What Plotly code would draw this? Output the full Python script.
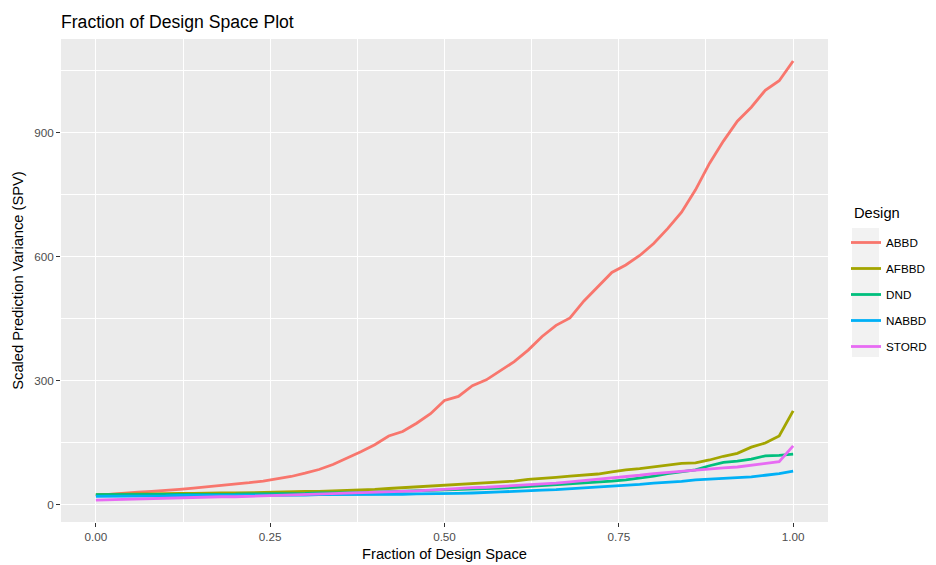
import plotly.graph_objects as go

fraction = [round(i * 0.02, 2) for i in range(51)]

designs = ["ABBD", "AFBBD", "DND", "NABBD", "STORD"]
colors = ["#F8766D", "#A3A500", "#00BF7D", "#00B0F6", "#E76BF3"]

abbd = [22, 25, 28, 30, 32, 34, 37, 40, 43, 46,
        50, 53, 57, 62, 68, 76, 85, 97, 112, 128,
        145, 166, 177, 197, 220, 252, 262, 288, 302, 325,
        346, 374, 407, 434, 452, 493, 528, 562, 580, 603,
        632, 668, 708, 762, 826, 880, 928, 962, 1003, 1026,
        1074]
afbbd = [24, 25, 25, 26, 26, 27, 27, 27, 28, 28,
         28, 29, 29, 30, 31, 32, 32, 33, 34, 36,
         37, 39, 41, 43, 45, 46, 48, 50, 52, 55,
         57, 61, 63, 66, 69, 71, 74, 79, 84, 87,
         91, 95, 100, 101, 108, 117, 124, 139, 149, 166,
         227]
dnd = [24, 24, 24, 24, 24, 24, 24, 25, 25, 25,
       25, 26, 26, 26, 27, 27, 28, 28, 29, 29,
       30, 31, 32, 33, 34, 35, 36, 38, 39, 40,
       42, 44, 46, 48, 50, 52, 55, 57, 60, 64,
       69, 75, 80, 84, 94, 102, 105, 110, 118, 119,
       122]
nabbd = [20, 20, 20, 21, 21, 21, 22, 22, 22, 22,
         22, 23, 23, 23, 23, 23, 24, 24, 24, 24,
         25, 25, 25, 26, 26, 27, 27, 28, 30, 31,
         32, 34, 35, 36, 38, 40, 42, 44, 47, 49,
         52, 54, 56, 60, 62, 64, 65, 67, 71, 75,
         81]
stord = [11, 12, 13, 14, 14, 15, 16, 17, 18, 19,
         19, 20, 21, 22, 23, 24, 25, 26, 27, 28,
         29, 30, 32, 33, 35, 37, 40, 41, 42, 44,
         45, 47, 49, 52, 55, 58, 61, 64, 67, 71,
         75, 78, 81, 83, 86, 89, 91, 95, 99, 104,
         142]
series = [abbd, afbbd, dnd, nabbd, stord]

x_ticks = [0, 0.25, 0.5, 0.75, 1.0]
x_ticklabels = ["0.00", "0.25", "0.50", "0.75", "1.00"]
y_ticks = [0, 300, 600, 900]
y_ticklabels = ["0", "300", "600", "900"]

FONT = "Liberation Sans, Arial, sans-serif"
W, H = 936, 565

fig = go.Figure()
for name, col, vals in zip(designs, colors, series):
    fig.add_trace(go.Scatter(
        x=fraction, y=vals, mode="lines", name=name, legendgroup=name,
        line=dict(color=col, width=2.8),
    ))

ymin = min(min(s) for s in series)
ymax = max(max(s) for s in series)
yr = ymax - ymin

axis_common = dict(
    showgrid=True, gridcolor="white", gridwidth=1.1,
    zeroline=False, showline=False, automargin=False,
    ticks="outside", ticklen=4, tickwidth=1.1, tickcolor="#333333",
    tickfont=dict(family=FONT, size=11.7, color="#4D4D4D"),
)

# legend key background (ggplot-style grey key boxes)
fig.add_shape(type="rect", xref="paper", yref="paper",
              x0=(852 - 61) / 767, x1=(879 - 61) / 767,
              y0=(522 - 357) / 483, y1=(522 - 228) / 483,
              fillcolor="#F2F2F2", line=dict(width=0), layer="below")

# legend title
fig.add_annotation(text="Design", xref="paper", yref="paper",
                   x=(852 - 61) / 767, y=(522 - 213) / 483,
                   xanchor="left", yanchor="middle", showarrow=False,
                   font=dict(family=FONT, size=14.7, color="black"))

fig.update_layout(
    width=W, height=H,
    margin=dict(l=61, r=108, t=39, b=43),
    paper_bgcolor="white", plot_bgcolor="#EBEBEB",
    title=dict(text="Fraction of Design Space Plot", x=0, xref="paper", xanchor="left",
               y=1 - 22 / H, yref="container", yanchor="middle",
               font=dict(family=FONT, size=17.6, color="black")),
    xaxis=dict(
        range=[-0.05, 1.05], tickvals=x_ticks, ticktext=x_ticklabels,
        minor=dict(dtick=0.125, tick0=0, showgrid=True, gridcolor="white", gridwidth=0.55, ticks=""),
        title=dict(text="Fraction of Design Space", standoff=6,
                   font=dict(family=FONT, size=14.7, color="black")),
        **axis_common,
    ),
    yaxis=dict(
        range=[ymin - 0.05 * yr, ymax + 0.05 * yr], tickvals=y_ticks, ticktext=y_ticklabels,
        minor=dict(dtick=150, tick0=0, showgrid=True, gridcolor="white", gridwidth=0.55, ticks=""),
        title=dict(text="Scaled Prediction Variance (SPV)", standoff=6,
                   font=dict(family=FONT, size=14.7, color="black")),
        **axis_common,
    ),
    legend=dict(
        xref="container", yref="container",
        x=846 / W, xanchor="left", y=1 - 228 / H, yanchor="top",
        bgcolor="rgba(0,0,0,0)",
        font=dict(family=FONT, size=11.7, color="black"),
        tracegroupgap=7, itemwidth=30,
    ),
    showlegend=True,
)

fig.write_html("out.html", config={"displayModeBar": False},
               post_script="document.body.style.margin='0px';")
